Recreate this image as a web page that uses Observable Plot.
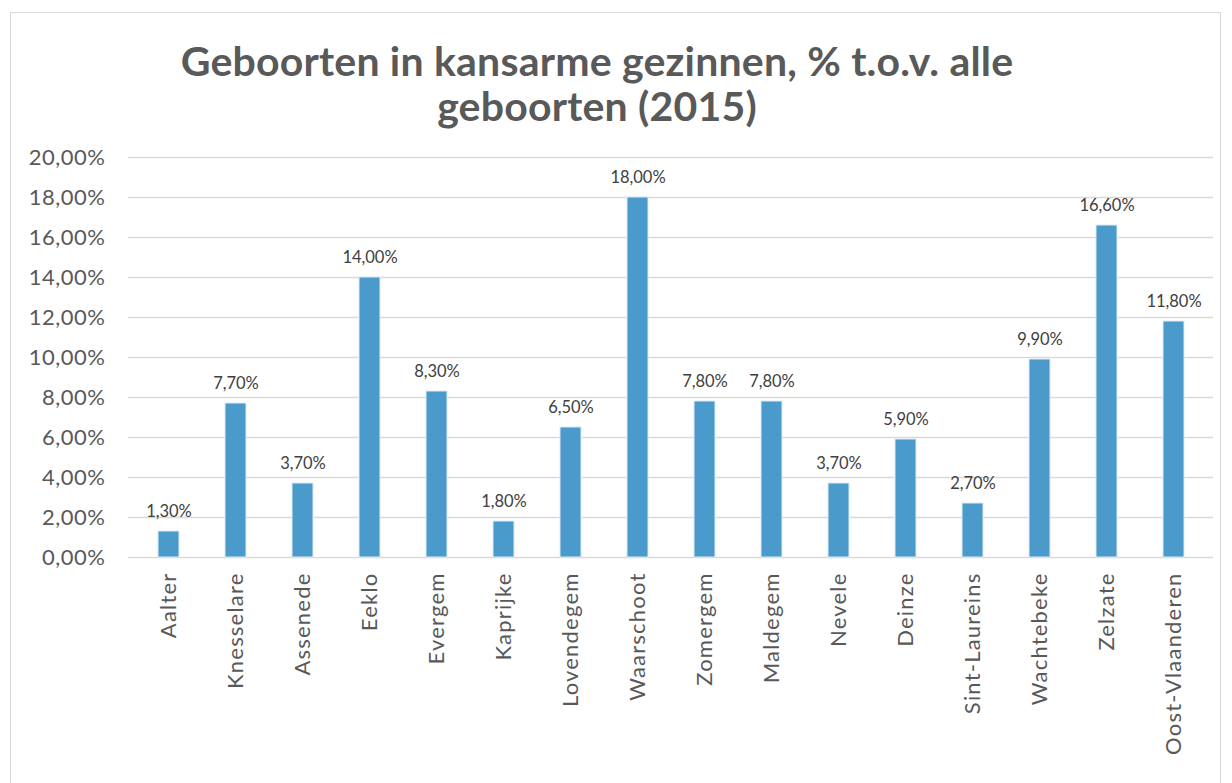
<!DOCTYPE html>
<html>
<head>
<meta charset="utf-8">
<script src="https://cdn.jsdelivr.net/npm/d3@7"></script>
<script src="https://cdn.jsdelivr.net/npm/@observablehq/plot@0.6"></script>
<style>
  html, body { margin: 0; padding: 0; background: #fff; }
  #wrap { position: relative; width: 1232px; height: 783px; overflow: hidden; }
  #frame { position: absolute; left: 10px; top: 12px; width: 1211px; height: 800px; border: 1.5px solid #d9d9d9; box-sizing: border-box; }
  #title { position: absolute; left: 0; top: 38px; width: 1194px; text-align: center; font-family: "Lato", sans-serif; font-weight: bold; font-size: 41px; line-height: 45px; letter-spacing: 0.2px; color: #595959; }
  #chart { position: absolute; left: 0; top: 0; }
  #chart .xax text { letter-spacing: 1.2px; }
  #chart .yax text { letter-spacing: 0.5px; }
</style>
</head>
<body>
<div id="wrap">
  <div id="frame"></div>
  <div id="chart"></div>
  <div id="title">Geboorten in kansarme gezinnen, % t.o.v. alle<br>geboorten (2015)</div>
</div>
<script>
const gemeenten = ["Aalter","Knesselare","Assenede","Eeklo","Evergem","Kaprijke","Lovendegem","Waarschoot","Zomergem","Maldegem","Nevele","Deinze","Sint-Laureins","Wachtebeke","Zelzate","Oost-Vlaanderen"];
const percentages = [1.3, 7.7, 3.7, 14.0, 8.3, 1.8, 6.5, 18.0, 7.8, 7.8, 3.7, 5.9, 2.7, 9.9, 16.6, 11.8];
const yTicks = [0, 2, 4, 6, 8, 10, 12, 14, 16, 18, 20];

const data = gemeenten.map((g, i) => ({gemeente: g, pct: percentages[i]}));
const fmt = d => d.toFixed(2).replace(".", ",") + "%";

const chart = Plot.plot({
  width: 1232,
  height: 783,
  marginTop: 157,
  marginBottom: 226,
  marginLeft: 128,
  marginRight: 19,
  style: {fontFamily: "Lato, sans-serif", background: "transparent", overflow: "visible"},
  x: {domain: gemeenten, paddingInner: 0.69, paddingOuter: 0.345, label: null},
  y: {domain: [0, 20], label: null},
  marks: [
    Plot.ruleY(yTicks, {stroke: "#d9d9d9", strokeWidth: 1.5}),
    Plot.axisY({ticks: yTicks, tickFormat: fmt, tickSize: 0, tickPadding: 23, fontSize: 22, fill: "#595959", label: null, className: "yax"}),
    Plot.axisX({tickSize: 0, tickRotate: -90, tickPadding: 15, fontSize: 22, fill: "#595959", label: null, className: "xax"}),
    Plot.barY(data, {x: "gemeente", y: "pct", fill: "#4a9bcb", stroke: "#dcebf5", strokeWidth: 1}),
    Plot.text(data, {x: "gemeente", y: "pct", text: d => fmt(d.pct), lineAnchor: "bottom", dy: -15, fontSize: 16.5, fill: "#404040"})
  ]
});
document.getElementById("chart").appendChild(chart);
</script>
</body>
</html>
